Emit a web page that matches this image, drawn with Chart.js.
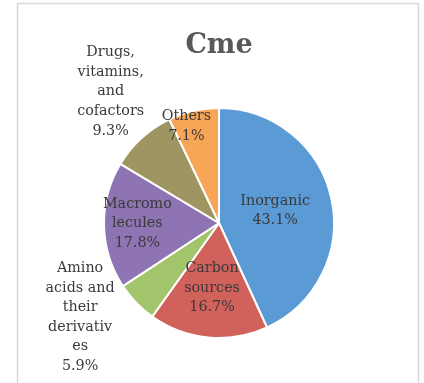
<!DOCTYPE html>
<html>
<head>
<meta charset="utf-8">
<script src="https://cdn.jsdelivr.net/npm/chart.js@4/dist/chart.umd.min.js"></script>
<style>
  html, body { margin: 0; padding: 0; background: #fff; }
  #wrap { width: 424px; height: 383px; position: relative; }
</style>
</head>
<body>
<div id="wrap"><canvas id="pieChart"></canvas></div>
<script>
"use strict";

// data
const chartTitle = 'Cme';
const categories = ['Inorganic', 'Carbon sources', 'Amino acids and their derivatives',
    'Macromolecules', 'Drugs, vitamins, and cofactors', 'Others'];
const labelLines = [
    ['Inorganic'],
    ['Carbon', 'sources'],
    ['Amino', 'acids and', 'their', 'derivativ', 'es'],
    ['Macromo', 'lecules'],
    ['Drugs,', 'vitamins,', 'and', 'cofactors'],
    ['Others']
];
const shares = [43.1, 16.7, 5.9, 17.8, 9.3, 7.1];
const sliceColors = ['#5b9bd5', '#d0625b', '#a2c46a', '#8e74b2', '#9f9562', '#f6a656'];

// label placement: radius factor and angle nudge (degrees) per slice
const labelRadius = [0.50, 0.57, 1.46, 0.71, 1.48, 0.89];
const labelNudge = [0, 0.7, 9.7, 0.7, 2.8, -5.8];

/**
 * Draws the frame and the data labels (category + percentage) on each slice.
 */
const labelPlugin = {
    id: 'sliceLabels',
    beforeDraw(chart) {
        const ctx = chart.ctx;
        ctx.save();
        ctx.strokeStyle = '#d9d9d9';
        ctx.lineWidth = 1.5;
        ctx.beginPath();
        ctx.moveTo(17.5, 400);
        ctx.lineTo(17.5, 3.5);
        ctx.lineTo(418.5, 3.5);
        ctx.lineTo(418.5, 400);
        ctx.stroke();
        ctx.restore();
    },
    afterDatasetsDraw(chart) {
        const ctx = chart.ctx;
        const meta = chart.getDatasetMeta(0);
        ctx.save();
        ctx.font = '14.3px "DejaVu Serif", serif';
        ctx.fillStyle = '#3a3a3a';
        ctx.textAlign = 'center';
        ctx.textBaseline = 'middle';
        const lh = 19.6;
        meta.data.forEach((arc, i) => {
            const p = arc.getProps(['x', 'y', 'startAngle', 'endAngle', 'outerRadius'], true);
            const mid = (p.startAngle + p.endAngle) / 2 + labelNudge[i] * Math.PI / 180;
            const r = p.outerRadius * labelRadius[i];
            const cx = p.x + Math.cos(mid) * r;
            const cy = p.y + Math.sin(mid) * r;
            const lines = labelLines[i].concat([shares[i].toFixed(1) + '%']);
            const top = cy - (lines.length - 1) * lh / 2;
            lines.forEach((t, k) => ctx.fillText(t, cx, top + k * lh));
        });
        ctx.restore();
    }
};

const ctx = document.getElementById('pieChart');
new Chart(ctx, {
    type: 'pie',
    data: {
        labels: categories,
        datasets: [{
            data: shares,
            backgroundColor: sliceColors,
            borderColor: '#ffffff',
            borderWidth: 2
        }]
    },
    options: {
        responsive: true,
        maintainAspectRatio: false,
        animation: false,
        radius: 115,
        layout: { padding: { top: 20, bottom: 37, left: 14, right: 0 } },
        plugins: {
            legend: { display: false },
            tooltip: { enabled: false },
            title: {
                display: true,
                text: chartTitle,
                color: '#595959',
                font: { family: '"DejaVu Serif", serif', size: 27, weight: 'bold', lineHeight: 1.2 },
                padding: { top: 10, bottom: 37.6 }
            }
        }
    },
    plugins: [labelPlugin]
});
</script>
</body>
</html>
